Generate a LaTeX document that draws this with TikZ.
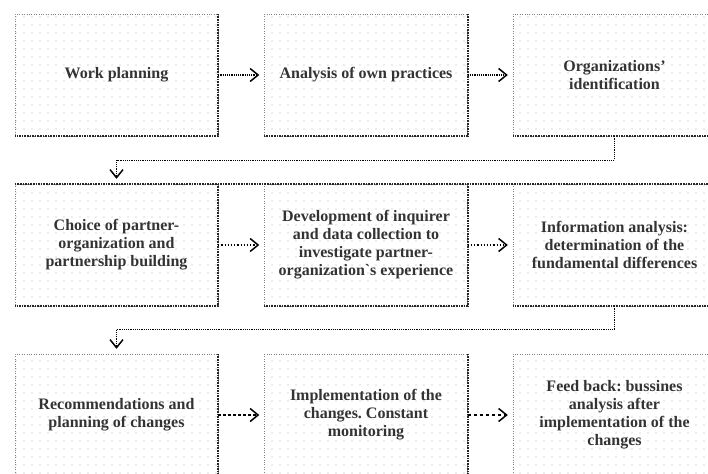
\documentclass[tikz,border=0pt]{standalone}
\usepackage{fontspec}
\setmainfont{Liberation Serif}
\usetikzlibrary{arrows.meta,patterns.meta}
\frenchspacing

\begin{document}
\begin{tikzpicture}[x=1pt,y=-1pt,
  stage/.style={minimum width=203pt,minimum height=122pt,inner sep=0pt,align=center,
    draw=gray,dotted,pattern={Dots[distance=8pt,radius=0.6pt]},pattern color=gray!60,
    font=\fontsize{16}{18}\selectfont\bfseries,text=black!80},
  shade edge/.style={line width=1.6pt,densely dotted,black!85},
  flow/.style={line width=1.2pt,-{Straight Barb[length=8pt,width=13pt,line width=1.5pt]},shorten >=5pt}]
  \useasboundingbox (0,0) rectangle (708,473);
  \clip (0,0) rectangle (708,473);
  % row 1
  \node[stage] (b1) at (116.5,75) {Work planning};
  \node[stage] (b2) at (366,75) {Analysis of own practices};
  \node[stage] (b3) at (614.5,75) {Organizations'\\identification};
  % row 2
  \node[stage] (b4) at (116.5,245) {Choice of partner-\\organization and\\partnership building};
  \node[stage] (b5) at (366,245) {Development of inquirer\\and data collection to\\investigate partner-\\organization\textasciigrave s experience};
  \node[stage] (b6) at (614.5,245) {Information analysis:\\determination of the\\fundamental differences};
  % row 3
  \node[stage] (b7) at (116.5,415) {Recommendations and\\planning of changes};
  \node[stage] (b8) at (366,415) {Implementation of the\\changes. Constant\\monitoring};
  \node[stage] (b9) at (614.5,415) {Feed back: bussines\\analysis after\\implementation of the\\changes};
  \foreach \n in {b1,b2,b3,b4,b5,b6,b7,b8,b9}
    \draw[shade edge] (\n.north east) -- (\n.south east) -- (\n.south west);
  \draw[shade edge] (b4.north west) -- (b6.north east);
  % connectors
  \draw[flow,densely dotted] (b1) -- (b2);
  \draw[flow,densely dotted] (b2) -- (b3);
  \draw[flow,densely dotted] (b3.south) -- ++(0,24) -| (b4.north);
  \draw[flow,dotted] (b4) -- (b5);
  \draw[flow,dotted] (b5) -- (b6);
  \draw[flow,densely dotted] (b6.south) -- ++(0,23) -| (b7.north);
  \draw[flow,densely dashed] (b7) -- (b8);
  \draw[flow,dashed] (b8) -- (b9);
\end{tikzpicture}
\end{document}
